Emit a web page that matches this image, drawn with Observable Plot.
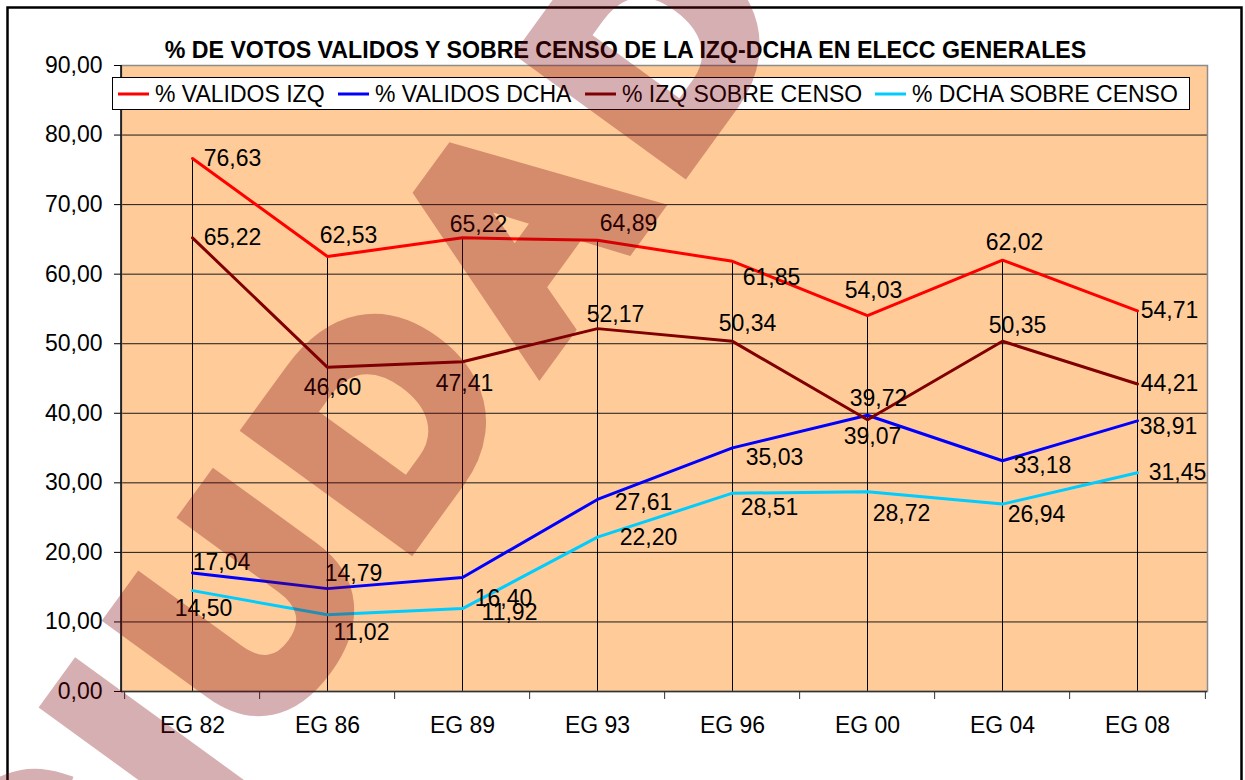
<!DOCTYPE html>
<html>
<head>
<meta charset="utf-8">
<script src="https://cdn.jsdelivr.net/npm/d3@7"></script>
<script src="https://cdn.jsdelivr.net/npm/@observablehq/plot@0.6"></script>
<style>
  html, body { margin: 0; padding: 0; background: #fff; }
  svg { display: block; }
</style>
</head>
<body>
<div id="chart"></div>
<script>
// ---------- data ----------
const categories = ["EG 82", "EG 86", "EG 89", "EG 93", "EG 96", "EG 00", "EG 04", "EG 08"];
const validosIzq  = [76.63, 62.53, 65.22, 64.89, 61.85, 54.03, 62.02, 54.71];
const validosDcha = [17.04, 14.79, 16.40, 27.61, 35.03, 39.72, 33.18, 38.91];
const izqCenso    = [65.22, 46.60, 47.41, 52.17, 50.34, 39.07, 50.35, 44.21];
const dchaCenso   = [14.50, 11.02, 11.92, 22.20, 28.51, 28.72, 26.94, 31.45];
const seriesNames = ["% VALIDOS IZQ", "% VALIDOS DCHA", "% IZQ SOBRE CENSO", "% DCHA SOBRE CENSO"];
const yTicks = [0, 10, 20, 30, 40, 50, 60, 70, 80, 90];
const chartTitle = "% DE VOTOS VALIDOS Y SOBRE CENSO DE LA IZQ-DCHA EN ELECC GENERALES";
const watermarkText = "CIUDAD";

// ---------- styles / layout (kept apart from the data) ----------
const seriesColors = ["#FF0000", "#0000FF", "#800000", "#00CCFF"];
// per-label pixel offsets [dx, dy] from the point, as placed in the original
const labelOffsets = [
  [[40, 0], [21, -21], [16, -13], [31, -17], [39, 16], [6, -25], [12, -17], [32, 0]],
  [[29, -10], [26, -15], [41, 21], [46, 3], [42, 10], [11, -17], [40, 5], [31, 6]],
  [[40, 0], [5, 20], [2, 22], [18, -14], [15, -18], [5, 17], [15, -16], [32, 0]],
  [[11, 18], [34, 18], [47, 4], [51, 1], [37, 14], [34, 22], [34, 11], [40, 0]]
];
const legendItemX = [118, 338, 585, 875];

const W = 1245, H = 780, mL = 121, mR = 38, mT = 65, mB = 89;
const FONT = "'Liberation Sans', Arial, Helvetica, sans-serif";
const step = (W - mL - mR) / categories.length;

const seriesValues = [validosIzq, validosDcha, izqCenso, dchaCenso];
const rowsOf = s => seriesValues[s].map((v, i) => ({cat: categories[i], value: v, s, i}));
const maxes = categories.map((c, i) => ({cat: c, top: d3.max(seriesValues, vals => vals[i])}));
const fmt = v => v.toFixed(2).replace(".", ",");

const lineMarks = seriesValues.map((_, s) =>
  Plot.line(rowsOf(s), {x: "cat", y: "value", stroke: seriesColors[s], strokeWidth: 3, strokeLinejoin: "miter"})
);
const labelMarks = seriesValues.flatMap((_, s) =>
  rowsOf(s).map(r => Plot.text([r], {
    x: "cat", y: "value", text: d => fmt(d.value),
    dx: labelOffsets[s][r.i][0], dy: labelOffsets[s][r.i][1],
    fill: "#000", fontSize: 23
  }))
);

const plot = Plot.plot({
  width: W,
  height: H,
  marginLeft: mL,
  marginRight: mR,
  marginTop: mT,
  marginBottom: mB,
  style: {fontFamily: FONT, fontSize: "23px", background: "#fff", color: "#000", overflow: "visible"},
  x: {type: "point", domain: categories, padding: 0.5, tickSize: 0, tickPadding: 25, label: null},
  y: {domain: [0, 90], ticks: yTicks, tickSize: 7, tickPadding: 12, tickFormat: fmt, label: null},
  marks: [
    Plot.frame({fill: "#FFCC99", stroke: null}),
    Plot.ruleY(yTicks.filter(t => t > 0 && t < 90), {stroke: "#1a1a1a", strokeWidth: 1}),
    Plot.ruleX(maxes, {x: "cat", y1: 0, y2: "top", stroke: "#000", strokeWidth: 1}),
    Plot.frame({stroke: "#8c8c8c", strokeWidth: 1.5}),
    Plot.ruleY([0], {stroke: "#333", strokeWidth: 1.5}),
    Plot.ruleX(categories, {x: d => d, y1: 0, y2: 0, insetBottom: -8, dx: -step / 2, stroke: "#333"}),
    Plot.ruleX([categories[categories.length - 1]], {x: d => d, y1: 0, y2: 0, insetBottom: -8, dx: step / 2, stroke: "#333"}),
    ...lineMarks,
    ...labelMarks
  ]
});

const svg = d3.select(plot);

// left axis line
svg.append("line")
  .attr("x1", mL).attr("x2", mL)
  .attr("y1", mT).attr("y2", H - mB + 1)
  .attr("stroke", "#000").attr("stroke-width", 1.5);

// title
svg.append("text")
  .attr("x", 625.5).attr("y", 58)
  .attr("text-anchor", "middle")
  .attr("font-family", FONT).attr("font-weight", "bold").attr("font-size", 23.2)
  .attr("fill", "#000")
  .text(chartTitle);

// legend
const lg = svg.append("g");
lg.append("rect")
  .attr("x", 112.5).attr("y", 77.5).attr("width", 1077).attr("height", 32)
  .attr("fill", "#fff").attr("stroke", "#000").attr("stroke-width", 1);
seriesNames.forEach((name, s) => {
  const x0 = legendItemX[s];
  lg.append("line")
    .attr("x1", x0).attr("x2", x0 + 31).attr("y1", 94).attr("y2", 94)
    .attr("stroke", seriesColors[s]).attr("stroke-width", 3);
  lg.append("text")
    .attr("x", x0 + 37).attr("y", 102)
    .attr("text-anchor", "start")
    .attr("font-family", FONT).attr("font-size", 23).attr("fill", "#000")
    .text(name);
});

// outer border
svg.append("rect")
  .attr("x", 7.5).attr("y", 7.5).attr("width", 1234).attr("height", 800)
  .attr("fill", "none").attr("stroke", "#000").attr("stroke-width", 2.5);

// watermark (semi-transparent, drawn over everything)
svg.append("g")
  .attr("opacity", 0.31)
  .attr("pointer-events", "none")
  .append("text")
  .attr("transform", "translate(-20,962) rotate(-54)")
  .attr("text-anchor", "start")
  .attr("dy", "0.36em")
  .attr("letter-spacing", 32)
  .attr("font-family", FONT).attr("font-weight", "bold").attr("font-size", 278)
  .attr("fill", "rgb(122,0,10)")
  .attr("stroke", "rgb(122,0,10)").attr("stroke-width", 22).attr("stroke-linejoin", "miter")
  .text(watermarkText);

document.getElementById("chart").appendChild(plot);
</script>
</body>
</html>
